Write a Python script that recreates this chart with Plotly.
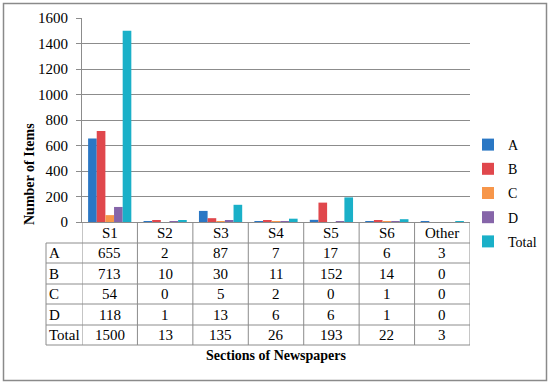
import plotly.graph_objects as go

categories = ["S1", "S2", "S3", "S4", "S5", "S6", "Other"]
series_names = ["A", "B", "C", "D", "Total"]
A = [655, 2, 87, 7, 17, 6, 3]
B = [713, 10, 30, 11, 152, 14, 0]
C = [54, 0, 5, 2, 0, 1, 0]
D = [118, 1, 13, 6, 6, 1, 0]
Total = [1500, 13, 135, 26, 193, 22, 3]
y_ticks = [0, 200, 400, 600, 800, 1000, 1200, 1400, 1600]

series_values = [A, B, C, D, Total]
colors = ["#2A77C4", "#E0474C", "#F7964A", "#8665A9", "#1AB0C8"]

W, H = 550, 384
FONT = "Liberation Serif"
GRID = "#8c8c8c"

def px(x):
    return x / W

def py(y):
    return 1 - y / H

fig = go.Figure()
for name, vals, col in zip(series_names, series_values, colors):
    fig.add_trace(go.Bar(x=categories, y=vals, name=name, marker_color=col,
                         marker_line_width=0, legendgroup=name))

# Table geometry (pixel rows)
row_edges = [222, 243, 263, 284, 304, 325, 345]
left_edge = 46

shapes = []
for ye in row_edges[1:]:
    shapes.append(dict(type="line", xref="paper", yref="paper",
                       x0=px(left_edge), x1=px(470), y0=py(ye), y1=py(ye),
                       line=dict(color=GRID, width=1)))
shapes.append(dict(type="line", xref="paper", yref="paper",
                   x0=px(left_edge), x1=px(left_edge), y0=py(243), y1=py(345),
                   line=dict(color=GRID, width=1)))
for i in range(len(categories) + 1):
    shapes.append(dict(type="line", xref="x", yref="paper",
                       x0=i - 0.5, x1=i - 0.5, y0=py(222), y1=py(345),
                       line=dict(color=GRID, width=1)))
shapes.append(dict(type="rect", xref="paper", yref="paper",
                   x0=px(3.5), x1=px(546.5), y0=py(3.5), y1=py(380.5),
                   line=dict(color="#8a8a8a", width=1.5)))

annotations = []
tfont = dict(family=FONT, size=15, color="#000")
for i, c in enumerate(categories):
    annotations.append(dict(x=i, y=py(232.5), xref="x", yref="paper", text=c,
                            showarrow=False, font=tfont, xanchor="center", yanchor="middle"))
for r, (name, vals) in enumerate(zip(series_names, series_values)):
    yc = py((row_edges[r + 1] + row_edges[r + 2]) / 2)
    annotations.append(dict(x=px(47), y=yc, xref="paper", yref="paper", text=name,
                            showarrow=False, font=tfont, xanchor="left", yanchor="middle"))
    for i, v in enumerate(vals):
        annotations.append(dict(x=i, y=yc, xref="x", yref="paper", text=str(v),
                                showarrow=False, font=tfont, xanchor="center", yanchor="middle"))
annotations.append(dict(x=px(276), y=py(355), xref="paper", yref="paper",
                        text="<b>Sections of Newspapers</b>", showarrow=False,
                        font=dict(family=FONT, size=14, color="#000"), yanchor="middle"))
annotations.append(dict(x=px(29), y=py(121), xref="paper", yref="paper",
                        text="<b>Number of Items</b>", showarrow=False, textangle=-90,
                        font=dict(family=FONT, size=14, color="#000"), xanchor="center"))

fig.update_layout(
    width=W, height=H,
    margin=dict(l=0, r=0, t=0, b=0),
    paper_bgcolor="white", plot_bgcolor="white",
    barmode="group", bargap=0.22, bargroupgap=0,
    font=dict(family=FONT, size=14, color="#000"),
    xaxis=dict(domain=[px(82), px(470)], showticklabels=False, showgrid=False,
               showline=True, linecolor=GRID, linewidth=1, ticks="", automargin=False,
               range=[-0.5, len(categories) - 0.5], fixedrange=True),
    yaxis=dict(domain=[py(222), py(18)], range=[0, 1600], tickvals=y_ticks,
               showgrid=True, gridcolor=GRID, gridwidth=1, showline=True,
               linecolor=GRID, linewidth=1, ticks="outside", ticklen=5, tickcolor=GRID,
               ticklabelstandoff=5, automargin=False,
               tickfont=dict(family=FONT, size=15, color="#000"), zeroline=False),
    legend=dict(x=px(468), y=py(129), xanchor="left", yanchor="top",
                font=dict(family=FONT, size=14, color="#000"),
                tracegroupgap=3, itemwidth=30, bgcolor="rgba(0,0,0,0)"),
    shapes=shapes,
    annotations=annotations,
)

fig.write_html("out.html", config={"displayModeBar": False},
               post_script="document.body.style.margin='0px';document.body.style.overflow='hidden';")
